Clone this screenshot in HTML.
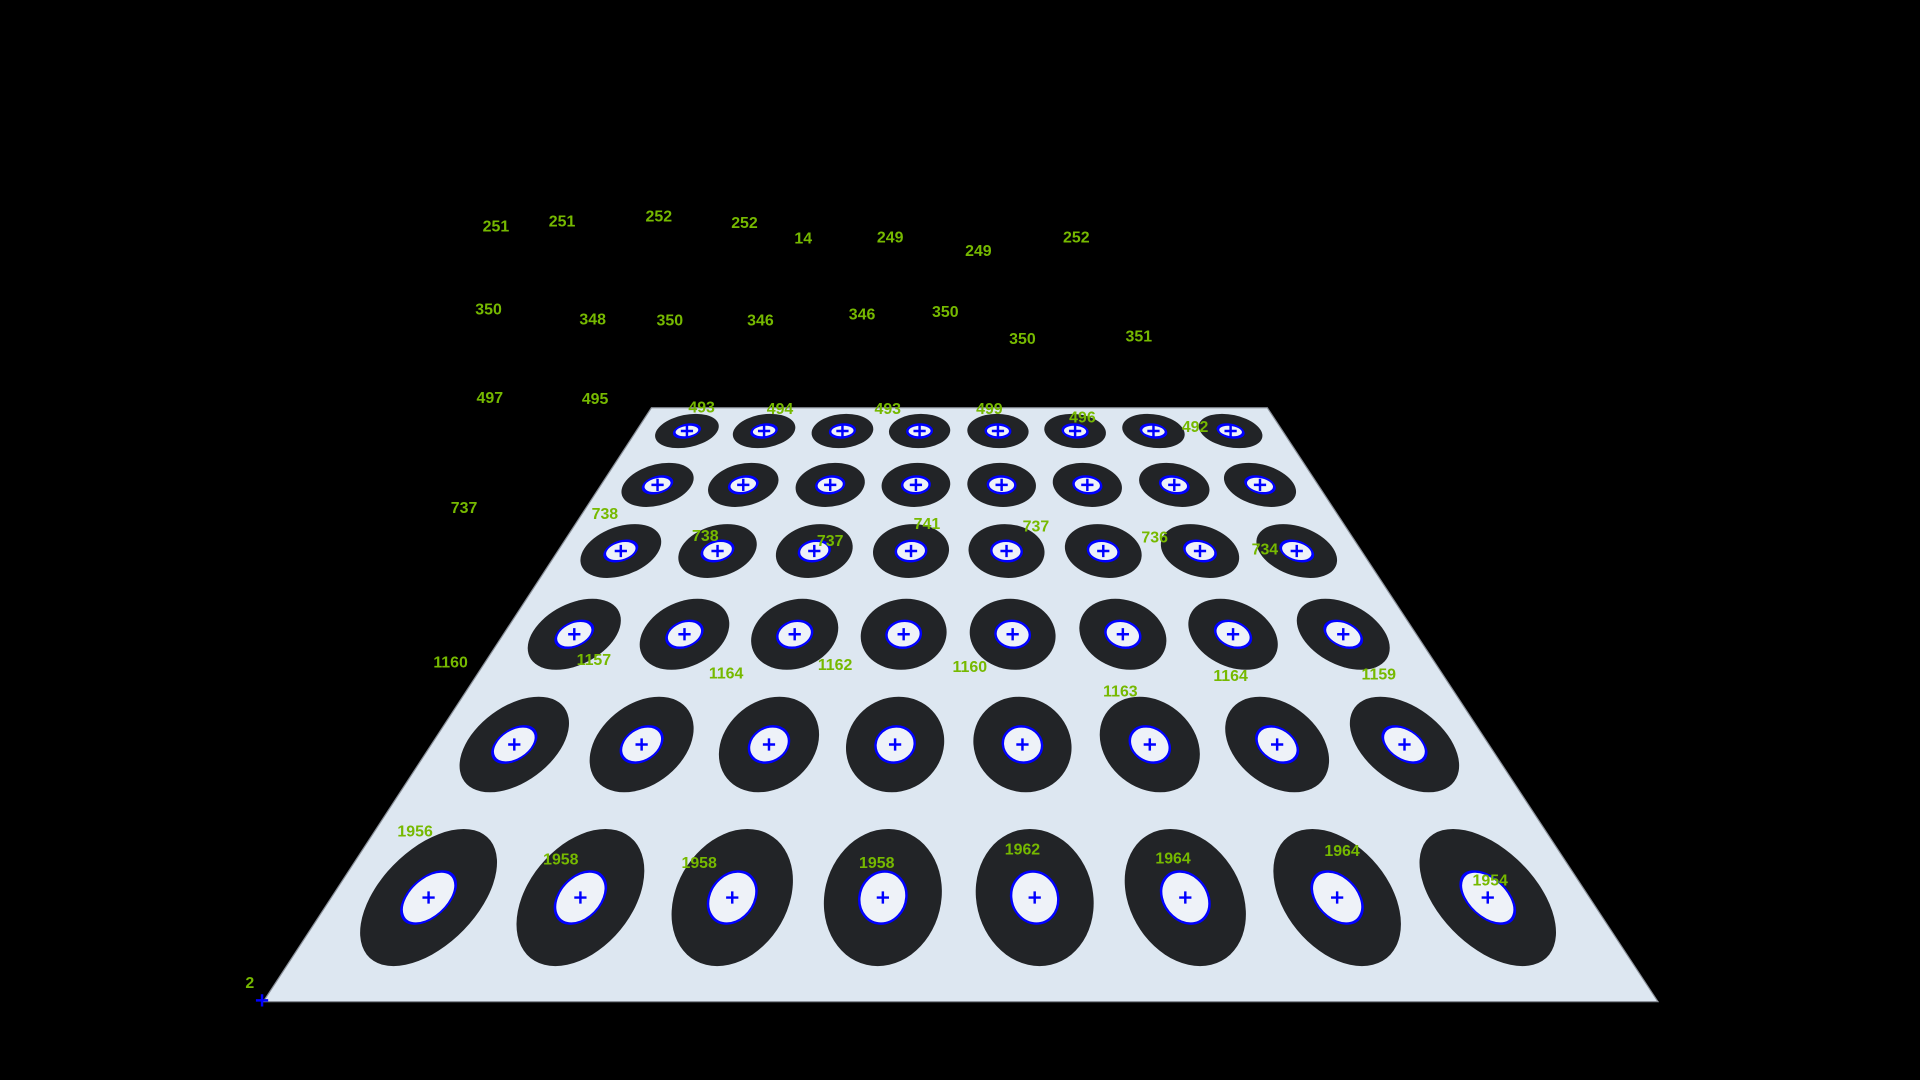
<!DOCTYPE html>
<html><head><meta charset="utf-8"><style>
html,body{margin:0;padding:0;background:#000;width:1920px;height:1080px;overflow:hidden}
svg{display:block}
text{font-family:"Liberation Sans",sans-serif;font-weight:bold;font-size:13px;fill:#76b900}
</style></head><body>
<svg id="scene" width="1920" height="1080" viewBox="0 0 1568 882">
<rect width="1568" height="882" fill="#000"/>
<polygon points="532,333 1035,333 1354,818 215,818" fill="#dde7f1" stroke="#8a9099" stroke-width="1"/>
<g id="marks"></g>
<g id="labels"></g>
<text x="204" y="807" text-anchor="middle">2</text>
<path d="M209,817h10M214,812v10" stroke="#0000ff" stroke-width="2"/>
</svg>
<script>
// row geometry (y centres and ellipse radii per row)
const rowY=[352,396,450,518,608,733];
const rowRX=[25,28,31,35,40,48];
const rowRY=[14,18,22,29,39,56];
const colX=[
[561,624,688,751,815,878,942,1005],
[537,607,678,748,818,888,959,1029],
[507,586,665,744,822,901,980,1059],
[469,559,649,738,827,917,1007,1097],
[420,524,628,731,835,939,1043,1147],
[350,474,598,721,845,968,1092,1215]];
// detected values per row
const rowValues=[
[251,251,252,252,14,249,249,252],
[350,348,350,346,346,350,350,351],
[497,495,493,494,493,499,496,492],
[737,738,738,737,741,737,736,734],
[1160,1157,1164,1162,1160,1163,1164,1159],
[1956,1958,1958,1958,1962,1964,1964,1954]];
const labelPos=[
[[405,184],[459,180],[538,176],[608,181],[656,194],[727,193],[799,204],[879,193]],
[[399,252],[484,260],[547,261],[621,261],[704,256],[772,254],[835,276],[930,274]],
[[400,324],[486,325],[573,332],[637,333],[725,333],[808,333],[884,340],[976,348]],
[[379,414],[494,419],[576,437],[678,441],[757,427],[846,429],[943,438],[1033,448]],
[[368,540],[485,538],[593,549],[682,542],[792,544],[915,564],[1005,551],[1126,550]],
[[339,678],[458,701],[571,704],[716,704],[835,693],[958,700],[1096,694],[1217,718]]];
const NS='http://www.w3.org/2000/svg';
const marks=document.getElementById('marks');
const labels=document.getElementById('labels');
for(let r=0;r<rowY.length;r++){
  for(let c=0;c<colX[r].length;c++){
    const x=colX[r][c],y=rowY[r];
    const k=(x-785)/(y+49)*0.92;
    const g=document.createElementNS(NS,'g');
    
    
    g.setAttribute('transform','translate('+x+','+y+') matrix(1,0,'+(k)+',1,0,0)');
    const o=document.createElementNS(NS,'ellipse');
    
    
    o.setAttribute('rx',rowRX[r]);o.setAttribute('ry',rowRY[r]);o.setAttribute('fill','#222427');
    g.appendChild(o);
    const i=document.createElementNS(NS,'ellipse');
    
    
    i.setAttribute('rx',rowRX[r]*0.4);i.setAttribute('ry',rowRY[r]*0.38);
    i.setAttribute('fill','#eef2f8');i.setAttribute('stroke','#0000ff');i.setAttribute('stroke-width','2');
    g.appendChild(i);
    marks.appendChild(g);
    const p=document.createElementNS(NS,'path');
    
    
    p.setAttribute('d','M'+(x-5)+','+y+'h10M'+x+','+(y-5)+'v10');
    p.setAttribute('stroke','#0000ff');p.setAttribute('stroke-width','2');
    marks.appendChild(p);
    const t=document.createElementNS(NS,'text');
    
    
    t.setAttribute('x',labelPos[r][c][0]);t.setAttribute('y',labelPos[r][c][1]+5);
    t.setAttribute('text-anchor','middle');
    t.textContent=rowValues[r][c];
    labels.appendChild(t);
  }
}
</script>
</body></html>
